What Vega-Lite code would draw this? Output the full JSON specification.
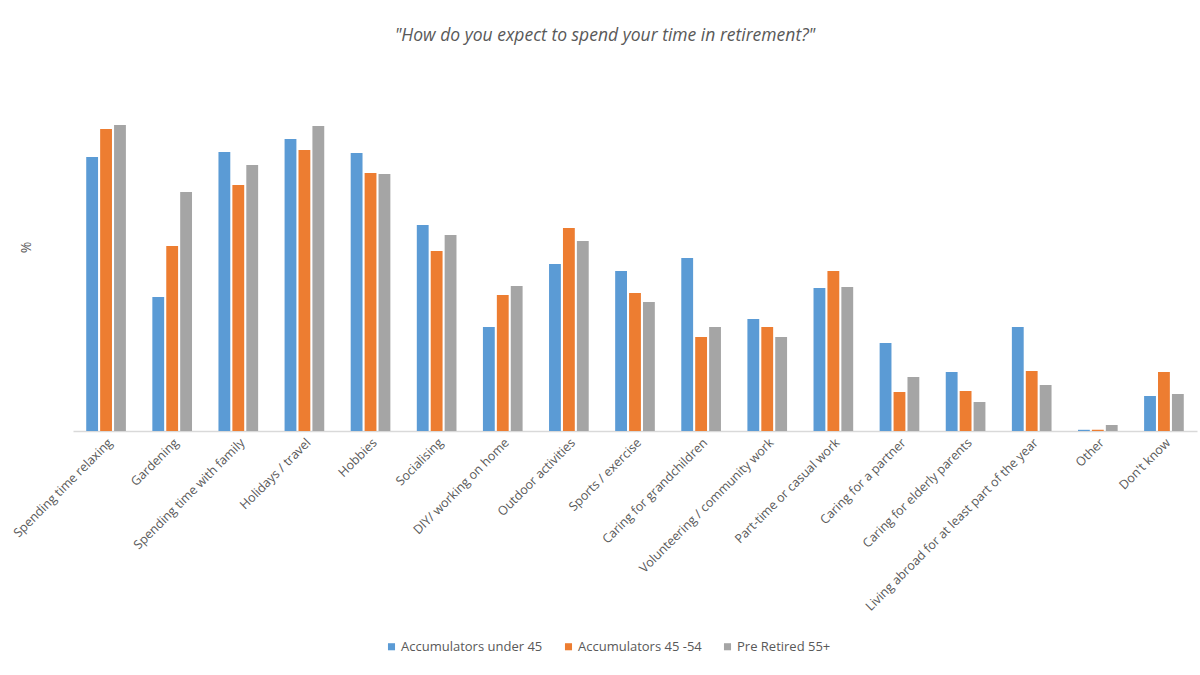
{
  "$schema": "https://vega.github.io/schema/vega-lite/v6.json",
  "width": 1124,
  "height": 340,
  "autosize": {"type": "none"},
  "padding": {"left": 73, "top": 91, "right": 3, "bottom": 244},
  "background": "white",
  "title": {
    "text": "\"How do you expect to spend your time in retirement?\"",
    "fontStyle": "italic",
    "fontWeight": "normal",
    "fontSize": 17.5,
    "font": "Open Sans",
    "color": "#595959",
    "anchor": "middle",
    "dx": -30,
    "offset": 47
  },
  "data": {
    "values": [
      {"activity": "Spending time relaxing", "group": "Accumulators under 45", "value": 274},
      {"activity": "Spending time relaxing", "group": "Accumulators 45 -54", "value": 302},
      {"activity": "Spending time relaxing", "group": "Pre Retired 55+", "value": 306},
      {"activity": "Gardening", "group": "Accumulators under 45", "value": 134},
      {"activity": "Gardening", "group": "Accumulators 45 -54", "value": 185},
      {"activity": "Gardening", "group": "Pre Retired 55+", "value": 239},
      {"activity": "Spending time with family", "group": "Accumulators under 45", "value": 279},
      {"activity": "Spending time with family", "group": "Accumulators 45 -54", "value": 246},
      {"activity": "Spending time with family", "group": "Pre Retired 55+", "value": 266},
      {"activity": "Holidays / travel", "group": "Accumulators under 45", "value": 292},
      {"activity": "Holidays / travel", "group": "Accumulators 45 -54", "value": 281},
      {"activity": "Holidays / travel", "group": "Pre Retired 55+", "value": 305},
      {"activity": "Hobbies", "group": "Accumulators under 45", "value": 278},
      {"activity": "Hobbies", "group": "Accumulators 45 -54", "value": 258},
      {"activity": "Hobbies", "group": "Pre Retired 55+", "value": 257},
      {"activity": "Socialising", "group": "Accumulators under 45", "value": 206},
      {"activity": "Socialising", "group": "Accumulators 45 -54", "value": 180},
      {"activity": "Socialising", "group": "Pre Retired 55+", "value": 196},
      {"activity": "DIY/ working on home", "group": "Accumulators under 45", "value": 104},
      {"activity": "DIY/ working on home", "group": "Accumulators 45 -54", "value": 136},
      {"activity": "DIY/ working on home", "group": "Pre Retired 55+", "value": 145},
      {"activity": "Outdoor activities", "group": "Accumulators under 45", "value": 167},
      {"activity": "Outdoor activities", "group": "Accumulators 45 -54", "value": 203},
      {"activity": "Outdoor activities", "group": "Pre Retired 55+", "value": 190},
      {"activity": "Sports / exercise", "group": "Accumulators under 45", "value": 160},
      {"activity": "Sports / exercise", "group": "Accumulators 45 -54", "value": 138},
      {"activity": "Sports / exercise", "group": "Pre Retired 55+", "value": 129},
      {"activity": "Caring for grandchildren", "group": "Accumulators under 45", "value": 173},
      {"activity": "Caring for grandchildren", "group": "Accumulators 45 -54", "value": 94},
      {"activity": "Caring for grandchildren", "group": "Pre Retired 55+", "value": 104},
      {"activity": "Volunteering / community work", "group": "Accumulators under 45", "value": 112},
      {"activity": "Volunteering / community work", "group": "Accumulators 45 -54", "value": 104},
      {"activity": "Volunteering / community work", "group": "Pre Retired 55+", "value": 94},
      {"activity": "Part-time or casual work", "group": "Accumulators under 45", "value": 143},
      {"activity": "Part-time or casual work", "group": "Accumulators 45 -54", "value": 160},
      {"activity": "Part-time or casual work", "group": "Pre Retired 55+", "value": 144},
      {"activity": "Caring for a partner", "group": "Accumulators under 45", "value": 88},
      {"activity": "Caring for a partner", "group": "Accumulators 45 -54", "value": 39},
      {"activity": "Caring for a partner", "group": "Pre Retired 55+", "value": 54},
      {"activity": "Caring for elderly parents", "group": "Accumulators under 45", "value": 59},
      {"activity": "Caring for elderly parents", "group": "Accumulators 45 -54", "value": 40},
      {"activity": "Caring for elderly parents", "group": "Pre Retired 55+", "value": 29},
      {"activity": "Living abroad for at least part of the year", "group": "Accumulators under 45", "value": 104},
      {"activity": "Living abroad for at least part of the year", "group": "Accumulators 45 -54", "value": 60},
      {"activity": "Living abroad for at least part of the year", "group": "Pre Retired 55+", "value": 46},
      {"activity": "Other", "group": "Accumulators under 45", "value": 1.2},
      {"activity": "Other", "group": "Accumulators 45 -54", "value": 1.2},
      {"activity": "Other", "group": "Pre Retired 55+", "value": 6},
      {"activity": "Don't know", "group": "Accumulators under 45", "value": 35},
      {"activity": "Don't know", "group": "Accumulators 45 -54", "value": 59},
      {"activity": "Don't know", "group": "Pre Retired 55+", "value": 37}
    ]
  },
  "mark": {"type": "bar"},
  "encoding": {
    "x": {
      "field": "activity",
      "type": "nominal",
      "sort": null,
      "scale": {"paddingInner": 0.4, "paddingOuter": 0.2},
      "axis": {
        "title": null,
        "labelAngle": -45,
        "labelFont": "Open Sans",
        "labelFontSize": 12.5,
        "labelColor": "#595959",
        "labelPadding": 5,
        "labelLimit": 400,
        "ticks": false,
        "domainColor": "#D9D9D9",
        "domainWidth": 1.5
      }
    },
    "xOffset": {
      "field": "group",
      "type": "nominal",
      "sort": ["Accumulators under 45", "Accumulators 45 -54", "Pre Retired 55+"],
      "scale": {"paddingInner": 0.15}
    },
    "y": {
      "field": "value",
      "type": "quantitative",
      "scale": {"domain": [0, 340]},
      "axis": {
        "title": "%",
        "titleFont": "Open Sans",
        "titleFontSize": 14,
        "titleFontWeight": "normal",
        "titleColor": "#595959",
        "titleX": -40,
        "titleY": 156,
        "labels": false,
        "ticks": false,
        "domain": false,
        "grid": false
      }
    },
    "color": {
      "field": "group",
      "type": "nominal",
      "sort": ["Accumulators under 45", "Accumulators 45 -54", "Pre Retired 55+"],
      "scale": {
        "domain": ["Accumulators under 45", "Accumulators 45 -54", "Pre Retired 55+"],
        "range": ["#5B9BD5", "#ED7D31", "#A5A5A5"]
      },
      "legend": {
        "title": null,
        "orient": "none",
        "direction": "horizontal",
        "legendX": 312,
        "legendY": 549,
        "symbolType": "square",
        "symbolSize": 50,
        "symbolStrokeWidth": 0,
        "labelFont": "Open Sans",
        "labelFontSize": 13,
        "labelColor": "#595959",
        "columnPadding": 19,
        "labelOffset": 3
      }
    }
  },
  "config": {"view": {"stroke": null}}
}
